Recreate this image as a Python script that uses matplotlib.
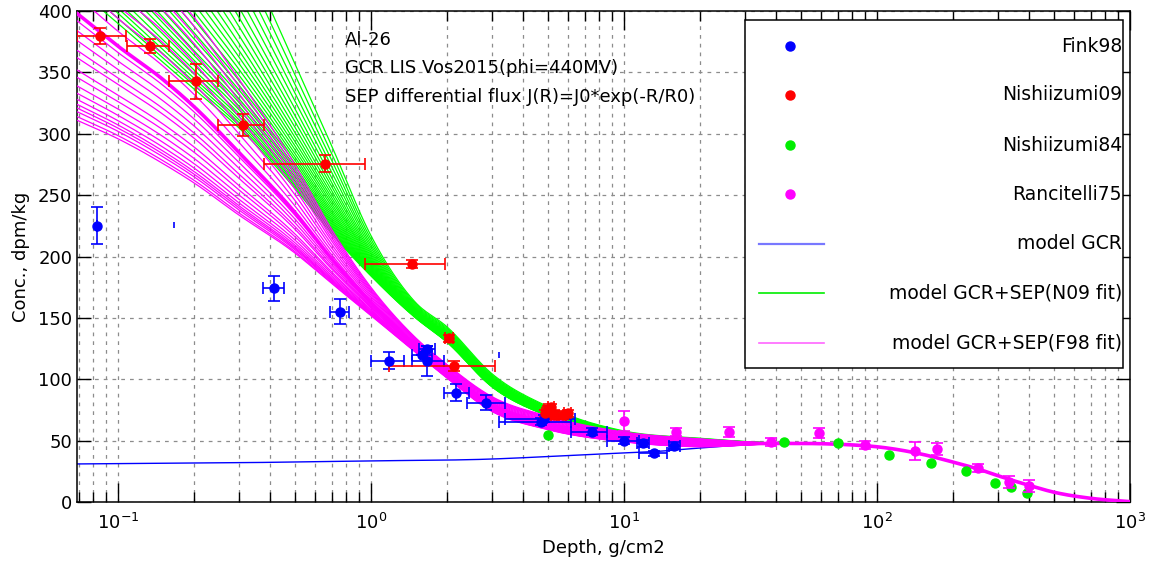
import numpy as np
import matplotlib
matplotlib.use('Agg')
import matplotlib.pyplot as plt
from matplotlib.patches import Rectangle

# ---------------- measured points ----------------
# Fink98: depth, conc, depth range (lo, hi), conc error
fink_x = [0.083, 0.415, 0.755, 1.18, 1.60, 1.67, 1.67, 2.18, 2.86, 4.70, 4.85, 7.5, 10.0, 11.9, 13.2, 15.8]
fink_y = [225, 174, 155, 115, 120, 125, 115, 89, 81, 65.4, 68, 57.3, 50, 47.8, 39.7, 45.9]
fink_lo = [0.083, 0.375, 0.69, 1.0, 1.45, 1.55, 1.45, 1.95, 2.40, 3.2, 3.4, 6.2, 8.6, 11.3, 11.5, 15.1]
fink_hi = [0.083, 0.455, 0.82, 1.35, 1.75, 1.80, 1.95, 2.45, 3.40, 6.2, 6.4, 8.6, 11.5, 12.6, 14.8, 16.7]
fink_err = [15, 10, 10, 7, 0, 2, 12, 7, 6, 3, 3, 3, 3, 3, 2, 3]
# two stray Fink98 error bars without marker
stub_x = [0.167, 3.2]
stub_y = [226, 120]
stub_err = [2.5, 2.5]

nish09_x = [0.0847, 0.134, 0.204, 0.313, 0.66, 1.46, 2.04, 2.14, 4.9, 5.0, 5.15, 5.3, 5.73, 6.0]
nish09_y = [380, 371.5, 342.7, 307.4, 275.6, 194, 133.3, 110.8, 72.3, 75.5, 77, 70.9, 70.9, 72.3]
nish09_lo = [0.069, 0.109, 0.159, 0.248, 0.379, 0.947, 1.96, 1.18, 4.75, 4.85, 5.0, 5.15, 5.55, 5.8]
nish09_hi = [0.108, 0.159, 0.248, 0.379, 0.95, 1.97, 2.12, 3.1, 5.05, 5.15, 5.3, 5.45, 5.9, 6.2]
nish09_err = [6.5, 6, 14, 9, 7, 3, 3, 4, 3, 3, 3, 3, 3, 3]

nish84_x = [5.0, 42.8, 70.3, 112, 164, 224, 292, 338, 392]
nish84_y = [54.6, 48.9, 48.1, 38.3, 31.8, 25.5, 15.5, 12.2, 7.3]

ranc_x = [10.0, 16.0, 26.0, 38.0, 58.9, 90.0, 142, 172, 250, 334, 400]
ranc_y = [66, 57, 57, 48.9, 56.2, 46.4, 41.5, 43.2, 27.7, 16.5, 13]
ranc_err = [8, 3, 4, 3, 4, 3, 7, 5, 3, 5, 5]

# ---------------- model curves ----------------
gcr_depth = [0.069, 0.3, 1.0, 3.0, 5.0, 10.0, 13.0, 20.0, 40.0]
gcr_conc = [31, 32, 33.5, 35, 37, 40, 41, 44, 48]

# common tail of all model curves (deep part)
tail_depth = [60, 80, 100, 150, 200, 250, 300, 400, 500, 700, 1000]
tail_conc = [47.5, 46.5, 45, 39, 32.5, 27, 21.5, 13.5, 8, 3, 0.3]

# GCR+SEP family knots
fam_depth = [0.069, 0.1, 0.15, 0.2, 0.3, 0.5, 0.7, 1.0, 1.5, 2.0, 3.0, 5.0, 10.0, 20.0, 40.0]
# N09 fit family: shallowest and steepest members
n09_low = [416, 388, 357, 335, 304, 255, 218, 184, 150, 130, 94, 70, 53, 49, 48]
n09_high = [758, 684, 602, 544, 463, 360, 292, 218, 163, 143, 105, 78, 58, 52, 48]
# depth where each N09 member leaves the top of the frame (400)
n09_top = [0.0878, 0.0928, 0.0979, 0.103, 0.109, 0.115, 0.122, 0.129, 0.136, 0.143,
           0.151, 0.160, 0.169, 0.178, 0.188, 0.199, 0.210, 0.222, 0.234, 0.247,
           0.261, 0.276, 0.291, 0.307, 0.325, 0.343, 0.362, 0.382, 0.404]
# F98 fit family: shallowest and steepest members
f98_low = [311, 296, 276, 260, 234, 203, 178, 152, 122, 101, 74, 59, 49, 45, 47.5]
f98_high = [500, 460, 425, 395, 345, 275, 222, 175, 134, 112, 86, 70, 57, 51.5, 48]
# value of each F98 member at the left edge
f98_start = [311, 314, 318, 321, 324, 328, 333, 339, 346, 352, 362, 368, 376, 384,
             392, 412, 424, 436, 448, 460, 470, 480, 490, 500]
f98_best = 398

plt.rcParams['font.family'] = 'DejaVu Sans'
fig = plt.figure(figsize=(11.63, 5.74), dpi=100)
ax = fig.add_axes([77 / 1163, 1 - 502 / 574, 1053 / 1163, 491 / 574])
ax.set_xscale('log')


def hermite(xk, yk, xq):
    # smooth cubic through the read points (log-depth axis)
    xk = np.asarray(xk, float)
    yk = np.asarray(yk, float)
    m = np.gradient(yk, xk)
    i = np.clip(np.searchsorted(xk, xq) - 1, 0, len(xk) - 2)
    h = xk[i + 1] - xk[i]
    t = (xq - xk[i]) / h
    return ((2 * t**3 - 3 * t**2 + 1) * yk[i] + (t**3 - 2 * t**2 + t) * h * m[i]
            + (-2 * t**3 + 3 * t**2) * yk[i + 1] + (t**3 - t**2) * h * m[i + 1])


grid = np.logspace(np.log10(0.069), 3, 800)
lg = np.log10(grid)
full_x = np.log10(fam_depth + tail_depth)


def member(low, high, w, xq=lg):
    knots = np.array(low) + w * (np.array(high) - np.array(low))
    return hermite(full_x, np.concatenate([knots, tail_conc]), xq)


for d in n09_top:
    lo = member(n09_low, n09_high, 0.0, np.log10(d))
    hi = member(n09_low, n09_high, 1.0, np.log10(d))
    w = (400 - lo) / (hi - lo)
    ax.plot(grid, member(n09_low, n09_high, w), color='#00ff00', lw=0.9, zorder=2)

ax.plot(grid, hermite(np.log10(gcr_depth + tail_depth), gcr_conc + tail_conc, lg),
        color='#0000ff', lw=1.0, zorder=2.5)

for s in f98_start:
    w = (s - f98_low[0]) / (f98_high[0] - f98_low[0])
    ax.plot(grid, member(f98_low, f98_high, w), color='#ff00ff', lw=0.9, zorder=3)
w = (f98_best - f98_low[0]) / (f98_high[0] - f98_low[0])
ax.plot(grid, member(f98_low, f98_high, w), color='#ff00ff', lw=2.6, zorder=3)

# ---------------- points ----------------
ebkw = dict(fmt='o', ms=6.5, elinewidth=1.2, capsize=4, capthick=1.2, zorder=5)
fx = np.array(fink_x)
ax.errorbar(fink_x, fink_y, yerr=fink_err,
            xerr=[fx - np.array(fink_lo), np.array(fink_hi) - fx], color='#0000ff', **ebkw)
ax.errorbar(stub_x, stub_y, yerr=stub_err, fmt='none', ecolor='#0000ff', elinewidth=1.2, zorder=5)
nx = np.array(nish09_x)
ax.errorbar(nish09_x, nish09_y, yerr=nish09_err,
            xerr=[nx - np.array(nish09_lo), np.array(nish09_hi) - nx], color='#ff0000', **ebkw)
ax.plot(nish84_x, nish84_y, 'o', ms=6.5, color='#00ee00', zorder=5)
ax.errorbar(ranc_x, ranc_y, yerr=ranc_err, color='#ff00ff', **ebkw)

# ---------------- axes ----------------
ax.set_xlim(0.069, 1000)
ax.set_ylim(0, 400)
ax.set_yticks(np.arange(0, 401, 50))
ax.grid(which='both', axis='x', color='#8c8c8c', ls=(0, (3, 4)), lw=0.9)
ax.grid(which='major', axis='y', color='#8c8c8c', ls=(0, (3, 4)), lw=0.9)
ax.tick_params(which='both', direction='in', top=True, right=True, labelsize=13, width=1)
ax.tick_params(axis='x', which='major', length=14, pad=8)
ax.tick_params(axis='x', which='minor', length=7)
ax.tick_params(axis='y', which='major', length=10)
for sp in ax.spines.values():
    sp.set_linewidth(1.1)
ax.set_xlabel('Depth, g/cm2', fontsize=13, labelpad=4)
ax.set_ylabel('Conc., dpm/kg', fontsize=13, labelpad=6)

for yy, txt in [(0.941, 'Al-26'), (0.884, 'GCR LIS Vos2015(phi=440MV)'),
                (0.825, 'SEP differential flux J(R)=J0*exp(-R/R0)')]:
    ax.text(0.2545, yy, txt, transform=ax.transAxes, fontsize=13, va='center', ha='left', zorder=6)

# ---------------- legend box ----------------
ax.add_patch(Rectangle((0.634, 0.273), 0.359, 0.709, transform=ax.transAxes,
                       facecolor='white', edgecolor='black', lw=1.1, zorder=9))
leg_y = [0.9287, 0.829, 0.727, 0.627, 0.5255, 0.4257, 0.3238]
leg_items = [('Fink98', 'dot', '#0000ff'), ('Nishiizumi09', 'dot', '#ff0000'),
             ('Nishiizumi84', 'dot', '#00ee00'), ('Rancitelli75', 'dot', '#ff00ff'),
             ('model GCR', 'line', '#7878ff'), ('model GCR+SEP(N09 fit)', 'line', '#00ee00'),
             ('model GCR+SEP(F98 fit)', 'line', '#ff66ff')]
for yy, (lab, kind, col) in zip(leg_y, leg_items):
    if kind == 'dot':
        ax.plot([0.6771], [yy], 'o', ms=6.5, color=col, transform=ax.transAxes, zorder=10)
    else:
        ax.plot([0.648, 0.709], [yy, yy], color=col, lw=1.6 if lab == 'model GCR' else 1.2,
                transform=ax.transAxes, zorder=10)
    ax.text(0.9925, yy, lab, transform=ax.transAxes, fontsize=13.5, ha='right', va='center', zorder=10)

fig.savefig('out.png', dpi=100)
